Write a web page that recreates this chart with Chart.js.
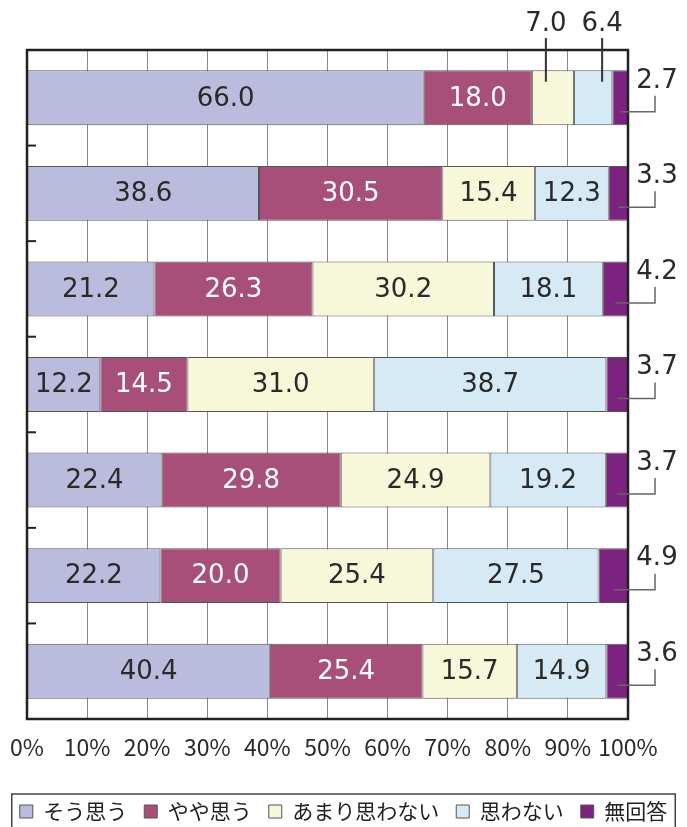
<!DOCTYPE html>
<html>
<head>
<meta charset="utf-8">
<script src="https://cdn.jsdelivr.net/npm/chart.js@4"></script>
<style>
  html, body { margin: 0; padding: 0; background: #fff; }
  #wrap { width: 687px; height: 827px; position: relative; }
</style>
</head>
<body>
<div id="wrap"><canvas id="chart1"></canvas></div>
<script>
  // rows (no visible labels in the original)
  var rows = ['1', '2', '3', '4', '5', '6', '7']
  var seriesNames = ['そう思う', 'やや思う', 'あまり思わない', '思わない', '無回答']
  var souOmou       = [66.0, 38.6, 21.2, 12.2, 22.4, 22.2, 40.4]
  var yayaOmou      = [18.0, 30.5, 26.3, 14.5, 29.8, 20.0, 25.4]
  var amariOmowanai = [7.0, 15.4, 30.2, 31.0, 24.9, 25.4, 15.7]
  var omowanai      = [6.4, 12.3, 18.1, 38.7, 19.2, 27.5, 14.9]
  var mukaitou      = [2.7, 3.3, 4.2, 3.7, 3.7, 4.9, 3.6]
  var xTicks        = [0, 10, 20, 30, 40, 50, 60, 70, 80, 90, 100]

  var colors = ['#babbdd', '#a84f79', '#f7f7da', '#d5eaf5', '#7b237f']
  var textColors = ['#2a2a2a', '#fff', '#2a2a2a', '#2a2a2a', '#fff']
  var seriesData = [souOmou, yayaOmou, amariOmowanai, omowanai, mukaitou]

  Chart.defaults.font.family = '"Noto Sans CJK JP", "Noto Sans", sans-serif'
  Chart.defaults.color = '#333'

  var datasets = seriesData.map(function (d, i) {
    return {
      label: seriesNames[i],
      data: d,
      backgroundColor: colors[i],
      borderColor: '#555',
      borderWidth: 1,
      borderSkipped: false,
      categoryPercentage: 1.0,
      barPercentage: 0.575
    }
  })

  var valueFont = '26px "DejaVu Sans", sans-serif'

  // frame, left ticks, value labels, legend frame
  var decoPlugin = {
    id: 'deco',
    afterDatasetsDraw: function (chart) {
      var ctx = chart.ctx
      var area = chart.chartArea
      var yScale = chart.scales.y
      ctx.save()
      // small ticks on left edge between rows
      ctx.strokeStyle = '#222'
      ctx.lineWidth = 2
      for (var i = 0; i < rows.length - 1; i++) {
        var yy = (yScale.getPixelForValue(i) + yScale.getPixelForValue(i + 1)) / 2
        ctx.beginPath()
        ctx.moveTo(area.left, yy)
        ctx.lineTo(area.left + 9, yy)
        ctx.stroke()
      }
      // frame
      ctx.strokeStyle = '#222'
      ctx.lineWidth = 2.5
      ctx.strokeRect(area.left, area.top, area.right - area.left, area.bottom - area.top)

      ctx.font = valueFont
      ctx.textAlign = 'center'
      ctx.textBaseline = 'middle'
      chart.data.datasets.forEach(function (ds, di) {
        var meta = chart.getDatasetMeta(di)
        meta.data.forEach(function (bar, ri) {
          var v = ds.data[ri]
          var cx = (bar.x + bar.base) / 2
          var label = v.toFixed(1)
          if (di === 4) {
            var lx = area.right + 27
            ctx.strokeStyle = '#666'
            ctx.lineWidth = 1.5
            ctx.beginPath()
            ctx.moveTo(cx, bar.y + 14)
            ctx.lineTo(lx, bar.y + 14)
            ctx.lineTo(lx, bar.y - 2)
            ctx.stroke()
            ctx.fillStyle = '#2a2a2a'
            ctx.fillText(label, area.right + 29, bar.y - 17)
          } else if (ri === 0 && (di === 2 || di === 3)) {
            // the two narrow segments of the first row are labelled above the frame
            var tx = cx + (di === 2 ? -7 : 9)
            ctx.strokeStyle = '#333'
            ctx.lineWidth = 2
            ctx.beginPath()
            ctx.moveTo(tx, area.top - 12)
            ctx.lineTo(tx, bar.y - 16)
            ctx.stroke()
            ctx.fillStyle = '#2a2a2a'
            ctx.fillText(label, tx, area.top - 26)
          } else {
            ctx.fillStyle = textColors[di]
            ctx.fillText(label, cx, bar.y + 1)
          }
        })
      })
      ctx.restore()
    },
    afterDraw: function (chart) {
      var lg = chart.legend
      if (!lg || !lg.legendHitBoxes.length) return
      var boxes = lg.legendHitBoxes
      var left = Math.min.apply(null, boxes.map(function (b) { return b.left }))
      var right = Math.max.apply(null, boxes.map(function (b) { return b.left + b.width }))
      var top = Math.min.apply(null, boxes.map(function (b) { return b.top }))
      var ctx = chart.ctx
      ctx.save()
      ctx.strokeStyle = '#444'
      ctx.lineWidth = 1.5
      ctx.strokeRect(left - 8, top - 7, right - left + 16, 60)
      ctx.restore()
    }
  }

  var barChartCanvas = document.getElementById('chart1').getContext('2d')
  var barChart = new Chart(barChartCanvas, {
    type: 'bar',
    data: { labels: rows, datasets: datasets },
    options: {
      indexAxis: 'y',
      responsive: true,
      maintainAspectRatio: false,
      animation: false,
      layout: { padding: { left: 0, right: 0, top: 50, bottom: -5 } },
      scales: {
        x: {
          stacked: true,
          min: 0,
          max: 100,
          afterBuildTicks: function (scale) {
            scale.ticks = xTicks.map(function (v) { return { value: v } })
          },
          afterFit: function (scale) {
            scale.height = 65
            scale.paddingLeft = 0
            scale.paddingRight = 0
          },
          ticks: {
            padding: 14,
            font: { size: 23 },
            color: '#2a2a2a',
            maxRotation: 0,
            autoSkip: false,
            callback: function (v) { return v + '%' }
          },
          grid: { color: '#888', lineWidth: 1, drawTicks: false },
          border: { display: false }
        },
        y: {
          stacked: true,
          afterFit: function (scale) { scale.width = 27 },
          ticks: { display: false },
          grid: { display: false, drawTicks: false },
          border: { display: false }
        },
        yRight: {
          type: 'linear',
          position: 'right',
          afterFit: function (scale) { scale.width = 59 },
          ticks: { display: false },
          grid: { display: false, drawTicks: false },
          border: { display: false }
        }
      },
      plugins: {
        legend: {
          position: 'bottom',
          labels: {
            boxWidth: 13,
            boxHeight: 13,
            padding: 17,
            color: '#222',
            font: { size: 21 }
          }
        },
        tooltip: { enabled: false }
      }
    },
    plugins: [decoPlugin]
  })
</script>
</body>
</html>
